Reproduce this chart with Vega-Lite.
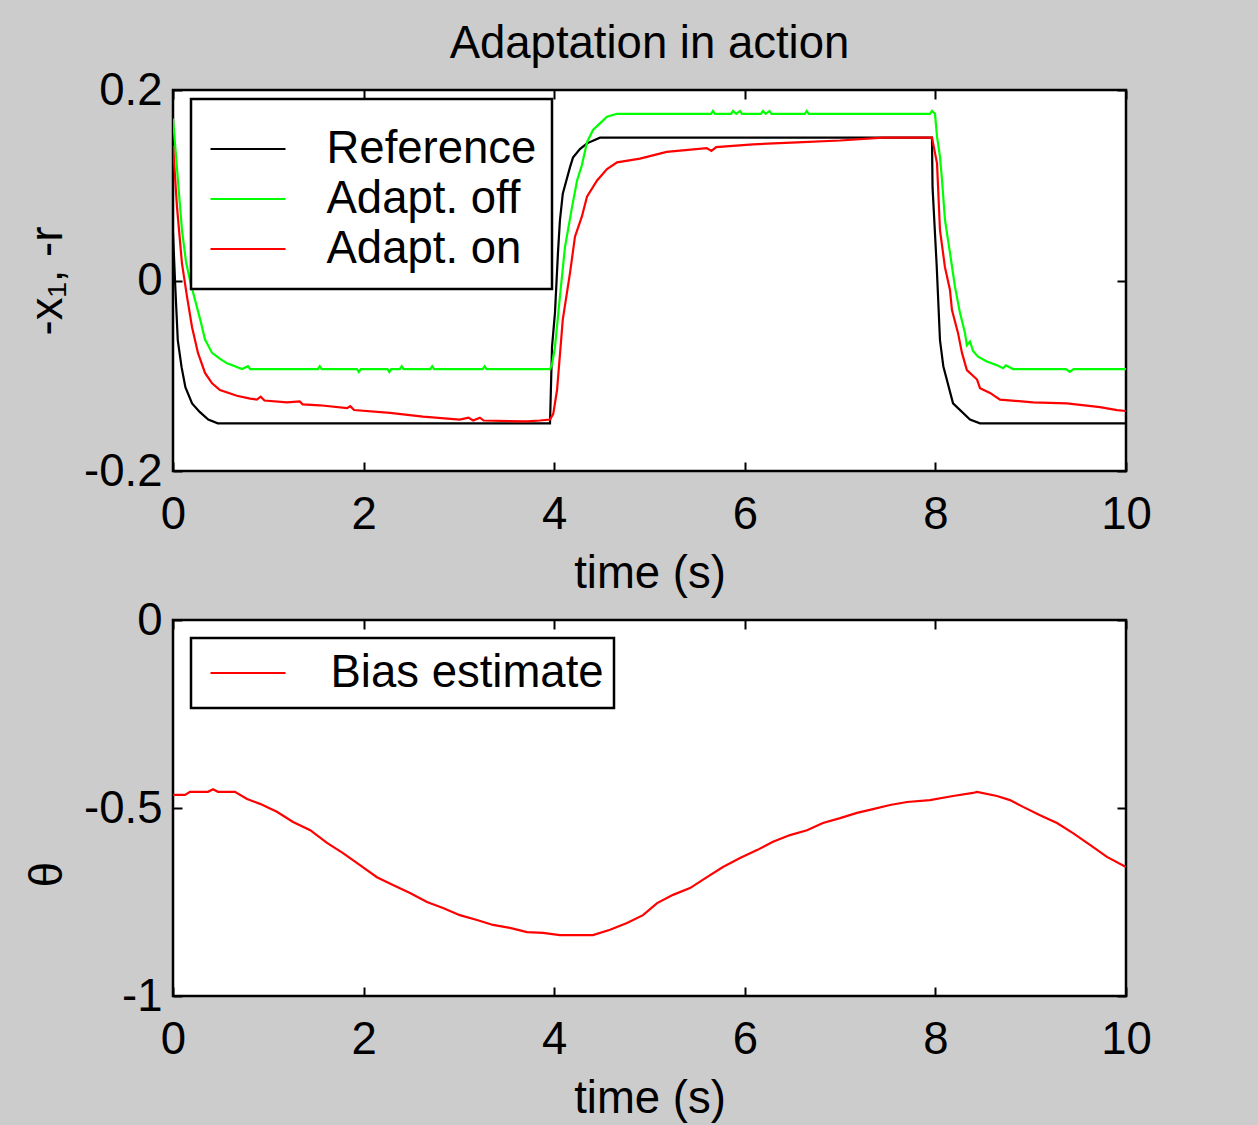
{
  "$schema": "https://vega.github.io/schema/vega-lite/v6.json",
  "background": "#cccccc",
  "padding": {"left": 24, "top": 20, "right": 132, "bottom": 20},
  "datasets": {
    "top": [
      {"t": 0, "v": 0.05, "series": "Reference"},
      {"t": 0.021, "v": 0.0, "series": "Reference"},
      {"t": 0.05, "v": -0.0625, "series": "Reference"},
      {"t": 0.09, "v": -0.091, "series": "Reference"},
      {"t": 0.13, "v": -0.112, "series": "Reference"},
      {"t": 0.2, "v": -0.129, "series": "Reference"},
      {"t": 0.28, "v": -0.138, "series": "Reference"},
      {"t": 0.37, "v": -0.146, "series": "Reference"},
      {"t": 0.47, "v": -0.15, "series": "Reference"},
      {"t": 3.956, "v": -0.15, "series": "Reference"},
      {"t": 3.977, "v": -0.07, "series": "Reference"},
      {"t": 4.008, "v": -0.034, "series": "Reference"},
      {"t": 4.04, "v": 0.03, "series": "Reference"},
      {"t": 4.06, "v": 0.063, "series": "Reference"},
      {"t": 4.09, "v": 0.091, "series": "Reference"},
      {"t": 4.166, "v": 0.119, "series": "Reference"},
      {"t": 4.197, "v": 0.129, "series": "Reference"},
      {"t": 4.27, "v": 0.138, "series": "Reference"},
      {"t": 4.344, "v": 0.144, "series": "Reference"},
      {"t": 4.48, "v": 0.15, "series": "Reference"},
      {"t": 7.964, "v": 0.15, "series": "Reference"},
      {"t": 7.97, "v": 0.098, "series": "Reference"},
      {"t": 8.014, "v": 0.0145, "series": "Reference"},
      {"t": 8.048, "v": -0.0625, "series": "Reference"},
      {"t": 8.083, "v": -0.09, "series": "Reference"},
      {"t": 8.185, "v": -0.129, "series": "Reference"},
      {"t": 8.363, "v": -0.146, "series": "Reference"},
      {"t": 8.468, "v": -0.15, "series": "Reference"},
      {"t": 10, "v": -0.15, "series": "Reference"},

      {"t": 0, "v": 0.17, "series": "Adapt. off"},
      {"t": 0.052, "v": 0.105, "series": "Adapt. off"},
      {"t": 0.094, "v": 0.053, "series": "Adapt. off"},
      {"t": 0.136, "v": 0.02, "series": "Adapt. off"},
      {"t": 0.178, "v": 0.0, "series": "Adapt. off"},
      {"t": 0.23, "v": -0.02, "series": "Adapt. off"},
      {"t": 0.283, "v": -0.04, "series": "Adapt. off"},
      {"t": 0.336, "v": -0.062, "series": "Adapt. off"},
      {"t": 0.41, "v": -0.076, "series": "Adapt. off"},
      {"t": 0.49, "v": -0.082, "series": "Adapt. off"},
      {"t": 0.567, "v": -0.087, "series": "Adapt. off"},
      {"t": 0.65, "v": -0.09, "series": "Adapt. off"},
      {"t": 0.724, "v": -0.093, "series": "Adapt. off"},
      {"t": 0.787, "v": -0.09, "series": "Adapt. off"},
      {"t": 0.81, "v": -0.093, "series": "Adapt. off"},
      {"t": 1.52, "v": -0.093, "series": "Adapt. off"},
      {"t": 1.54, "v": -0.09, "series": "Adapt. off"},
      {"t": 1.56, "v": -0.093, "series": "Adapt. off"},
      {"t": 1.93, "v": -0.093, "series": "Adapt. off"},
      {"t": 1.95, "v": -0.096, "series": "Adapt. off"},
      {"t": 1.97, "v": -0.093, "series": "Adapt. off"},
      {"t": 2.25, "v": -0.093, "series": "Adapt. off"},
      {"t": 2.27, "v": -0.096, "series": "Adapt. off"},
      {"t": 2.29, "v": -0.093, "series": "Adapt. off"},
      {"t": 2.38, "v": -0.093, "series": "Adapt. off"},
      {"t": 2.4, "v": -0.09, "series": "Adapt. off"},
      {"t": 2.42, "v": -0.093, "series": "Adapt. off"},
      {"t": 2.7, "v": -0.093, "series": "Adapt. off"},
      {"t": 2.72, "v": -0.09, "series": "Adapt. off"},
      {"t": 2.74, "v": -0.093, "series": "Adapt. off"},
      {"t": 3.25, "v": -0.093, "series": "Adapt. off"},
      {"t": 3.27, "v": -0.09, "series": "Adapt. off"},
      {"t": 3.29, "v": -0.093, "series": "Adapt. off"},
      {"t": 3.956, "v": -0.093, "series": "Adapt. off"},
      {"t": 3.977, "v": -0.088, "series": "Adapt. off"},
      {"t": 4.008, "v": -0.07, "series": "Adapt. off"},
      {"t": 4.06, "v": -0.017, "series": "Adapt. off"},
      {"t": 4.113, "v": 0.035, "series": "Adapt. off"},
      {"t": 4.187, "v": 0.077, "series": "Adapt. off"},
      {"t": 4.24, "v": 0.105, "series": "Adapt. off"},
      {"t": 4.29, "v": 0.121, "series": "Adapt. off"},
      {"t": 4.344, "v": 0.145, "series": "Adapt. off"},
      {"t": 4.407, "v": 0.158, "series": "Adapt. off"},
      {"t": 4.48, "v": 0.165, "series": "Adapt. off"},
      {"t": 4.554, "v": 0.172, "series": "Adapt. off"},
      {"t": 4.66, "v": 0.175, "series": "Adapt. off"},
      {"t": 5.646, "v": 0.175, "series": "Adapt. off"},
      {"t": 5.666, "v": 0.178, "series": "Adapt. off"},
      {"t": 5.686, "v": 0.175, "series": "Adapt. off"},
      {"t": 5.856, "v": 0.175, "series": "Adapt. off"},
      {"t": 5.876, "v": 0.178, "series": "Adapt. off"},
      {"t": 5.91, "v": 0.175, "series": "Adapt. off"},
      {"t": 5.95, "v": 0.178, "series": "Adapt. off"},
      {"t": 5.97, "v": 0.175, "series": "Adapt. off"},
      {"t": 6.17, "v": 0.175, "series": "Adapt. off"},
      {"t": 6.19, "v": 0.178, "series": "Adapt. off"},
      {"t": 6.22, "v": 0.175, "series": "Adapt. off"},
      {"t": 6.26, "v": 0.178, "series": "Adapt. off"},
      {"t": 6.28, "v": 0.175, "series": "Adapt. off"},
      {"t": 6.63, "v": 0.175, "series": "Adapt. off"},
      {"t": 6.65, "v": 0.178, "series": "Adapt. off"},
      {"t": 6.67, "v": 0.175, "series": "Adapt. off"},
      {"t": 7.943, "v": 0.175, "series": "Adapt. off"},
      {"t": 7.964, "v": 0.178, "series": "Adapt. off"},
      {"t": 7.996, "v": 0.175, "series": "Adapt. off"},
      {"t": 8.017, "v": 0.151, "series": "Adapt. off"},
      {"t": 8.048, "v": 0.13, "series": "Adapt. off"},
      {"t": 8.069, "v": 0.106, "series": "Adapt. off"},
      {"t": 8.1, "v": 0.064, "series": "Adapt. off"},
      {"t": 8.153, "v": 0.029, "series": "Adapt. off"},
      {"t": 8.206, "v": -0.007, "series": "Adapt. off"},
      {"t": 8.258, "v": -0.034, "series": "Adapt. off"},
      {"t": 8.31, "v": -0.055, "series": "Adapt. off"},
      {"t": 8.33, "v": -0.068, "series": "Adapt. off"},
      {"t": 8.363, "v": -0.064, "series": "Adapt. off"},
      {"t": 8.395, "v": -0.074, "series": "Adapt. off"},
      {"t": 8.447, "v": -0.08, "series": "Adapt. off"},
      {"t": 8.54, "v": -0.085, "series": "Adapt. off"},
      {"t": 8.646, "v": -0.089, "series": "Adapt. off"},
      {"t": 8.71, "v": -0.092, "series": "Adapt. off"},
      {"t": 8.74, "v": -0.089, "series": "Adapt. off"},
      {"t": 8.814, "v": -0.093, "series": "Adapt. off"},
      {"t": 9.37, "v": -0.093, "series": "Adapt. off"},
      {"t": 9.41, "v": -0.096, "series": "Adapt. off"},
      {"t": 9.45, "v": -0.093, "series": "Adapt. off"},
      {"t": 10, "v": -0.093, "series": "Adapt. off"},

      {"t": 0, "v": 0.142, "series": "Adapt. on"},
      {"t": 0.042, "v": 0.077, "series": "Adapt. on"},
      {"t": 0.094, "v": 0.018, "series": "Adapt. on"},
      {"t": 0.147, "v": -0.017, "series": "Adapt. on"},
      {"t": 0.2, "v": -0.049, "series": "Adapt. on"},
      {"t": 0.262, "v": -0.076, "series": "Adapt. on"},
      {"t": 0.336, "v": -0.097, "series": "Adapt. on"},
      {"t": 0.41, "v": -0.108, "series": "Adapt. on"},
      {"t": 0.493, "v": -0.115, "series": "Adapt. on"},
      {"t": 0.67, "v": -0.121, "series": "Adapt. on"},
      {"t": 0.81, "v": -0.124, "series": "Adapt. on"},
      {"t": 0.88, "v": -0.125, "series": "Adapt. on"},
      {"t": 0.92, "v": -0.122, "series": "Adapt. on"},
      {"t": 0.96, "v": -0.126, "series": "Adapt. on"},
      {"t": 1.196, "v": -0.128, "series": "Adapt. on"},
      {"t": 1.33, "v": -0.127, "series": "Adapt. on"},
      {"t": 1.36, "v": -0.13, "series": "Adapt. on"},
      {"t": 1.54, "v": -0.131, "series": "Adapt. on"},
      {"t": 1.826, "v": -0.134, "series": "Adapt. on"},
      {"t": 1.86, "v": -0.132, "series": "Adapt. on"},
      {"t": 1.9, "v": -0.136, "series": "Adapt. on"},
      {"t": 2.277, "v": -0.139, "series": "Adapt. on"},
      {"t": 2.623, "v": -0.143, "series": "Adapt. on"},
      {"t": 3.01, "v": -0.146, "series": "Adapt. on"},
      {"t": 3.1, "v": -0.144, "series": "Adapt. on"},
      {"t": 3.15, "v": -0.147, "series": "Adapt. on"},
      {"t": 3.22, "v": -0.144, "series": "Adapt. on"},
      {"t": 3.26, "v": -0.147, "series": "Adapt. on"},
      {"t": 3.71, "v": -0.148, "series": "Adapt. on"},
      {"t": 3.85, "v": -0.147, "series": "Adapt. on"},
      {"t": 3.956, "v": -0.146, "series": "Adapt. on"},
      {"t": 3.99, "v": -0.14, "series": "Adapt. on"},
      {"t": 4.03, "v": -0.115, "series": "Adapt. on"},
      {"t": 4.09, "v": -0.041, "series": "Adapt. on"},
      {"t": 4.166, "v": 0.008, "series": "Adapt. on"},
      {"t": 4.218, "v": 0.046, "series": "Adapt. on"},
      {"t": 4.29, "v": 0.067, "series": "Adapt. on"},
      {"t": 4.344, "v": 0.088, "series": "Adapt. on"},
      {"t": 4.45, "v": 0.105, "series": "Adapt. on"},
      {"t": 4.554, "v": 0.117, "series": "Adapt. on"},
      {"t": 4.66, "v": 0.124, "series": "Adapt. on"},
      {"t": 4.9, "v": 0.128, "series": "Adapt. on"},
      {"t": 5.18, "v": 0.135, "series": "Adapt. on"},
      {"t": 5.6, "v": 0.139, "series": "Adapt. on"},
      {"t": 5.65, "v": 0.136, "series": "Adapt. on"},
      {"t": 5.7, "v": 0.14, "series": "Adapt. on"},
      {"t": 6.086, "v": 0.143, "series": "Adapt. on"},
      {"t": 6.548, "v": 0.145, "series": "Adapt. on"},
      {"t": 7.0, "v": 0.147, "series": "Adapt. on"},
      {"t": 7.45, "v": 0.15, "series": "Adapt. on"},
      {"t": 7.964, "v": 0.15, "series": "Adapt. on"},
      {"t": 8.017, "v": 0.123, "series": "Adapt. on"},
      {"t": 8.048, "v": 0.053, "series": "Adapt. on"},
      {"t": 8.1, "v": 0.014, "series": "Adapt. on"},
      {"t": 8.153, "v": -0.01, "series": "Adapt. on"},
      {"t": 8.174, "v": -0.031, "series": "Adapt. on"},
      {"t": 8.237, "v": -0.055, "series": "Adapt. on"},
      {"t": 8.279, "v": -0.076, "series": "Adapt. on"},
      {"t": 8.33, "v": -0.094, "series": "Adapt. on"},
      {"t": 8.437, "v": -0.104, "series": "Adapt. on"},
      {"t": 8.468, "v": -0.113, "series": "Adapt. on"},
      {"t": 8.573, "v": -0.118, "series": "Adapt. on"},
      {"t": 8.678, "v": -0.125, "series": "Adapt. on"},
      {"t": 9.024, "v": -0.128, "series": "Adapt. on"},
      {"t": 9.38, "v": -0.129, "series": "Adapt. on"},
      {"t": 9.727, "v": -0.133, "series": "Adapt. on"},
      {"t": 9.906, "v": -0.136, "series": "Adapt. on"},
      {"t": 10, "v": -0.137, "series": "Adapt. on"}
    ],
    "bottom": [
      {"t": 0, "v": -0.465, "series": "Bias estimate"},
      {"t": 0.126, "v": -0.465, "series": "Bias estimate"},
      {"t": 0.178, "v": -0.457, "series": "Bias estimate"},
      {"t": 0.367, "v": -0.457, "series": "Bias estimate"},
      {"t": 0.42, "v": -0.45, "series": "Bias estimate"},
      {"t": 0.472, "v": -0.457, "series": "Bias estimate"},
      {"t": 0.65, "v": -0.457, "series": "Bias estimate"},
      {"t": 0.777, "v": -0.476, "series": "Bias estimate"},
      {"t": 0.913, "v": -0.489, "series": "Bias estimate"},
      {"t": 1.09, "v": -0.51, "series": "Bias estimate"},
      {"t": 1.26, "v": -0.537, "series": "Bias estimate"},
      {"t": 1.44, "v": -0.559, "series": "Bias estimate"},
      {"t": 1.616, "v": -0.593, "series": "Bias estimate"},
      {"t": 1.784, "v": -0.62, "series": "Bias estimate"},
      {"t": 1.962, "v": -0.652, "series": "Bias estimate"},
      {"t": 2.14, "v": -0.684, "series": "Bias estimate"},
      {"t": 2.308, "v": -0.705, "series": "Bias estimate"},
      {"t": 2.487, "v": -0.726, "series": "Bias estimate"},
      {"t": 2.665, "v": -0.75, "series": "Bias estimate"},
      {"t": 2.833, "v": -0.766, "series": "Bias estimate"},
      {"t": 3.01, "v": -0.785, "series": "Bias estimate"},
      {"t": 3.19, "v": -0.798, "series": "Bias estimate"},
      {"t": 3.358, "v": -0.811, "series": "Bias estimate"},
      {"t": 3.536, "v": -0.819, "series": "Bias estimate"},
      {"t": 3.715, "v": -0.83, "series": "Bias estimate"},
      {"t": 3.883, "v": -0.832, "series": "Bias estimate"},
      {"t": 4.06, "v": -0.838, "series": "Bias estimate"},
      {"t": 4.407, "v": -0.838, "series": "Bias estimate"},
      {"t": 4.586, "v": -0.824, "series": "Bias estimate"},
      {"t": 4.764, "v": -0.806, "series": "Bias estimate"},
      {"t": 4.932, "v": -0.785, "series": "Bias estimate"},
      {"t": 5.08, "v": -0.753, "series": "Bias estimate"},
      {"t": 5.247, "v": -0.731, "series": "Bias estimate"},
      {"t": 5.425, "v": -0.713, "series": "Bias estimate"},
      {"t": 5.603, "v": -0.684, "series": "Bias estimate"},
      {"t": 5.771, "v": -0.657, "series": "Bias estimate"},
      {"t": 5.95, "v": -0.633, "series": "Bias estimate"},
      {"t": 6.128, "v": -0.612, "series": "Bias estimate"},
      {"t": 6.296, "v": -0.59, "series": "Bias estimate"},
      {"t": 6.474, "v": -0.572, "series": "Bias estimate"},
      {"t": 6.653, "v": -0.559, "series": "Bias estimate"},
      {"t": 6.82, "v": -0.54, "series": "Bias estimate"},
      {"t": 7.0, "v": -0.527, "series": "Bias estimate"},
      {"t": 7.177, "v": -0.513, "series": "Bias estimate"},
      {"t": 7.345, "v": -0.503, "series": "Bias estimate"},
      {"t": 7.524, "v": -0.492, "series": "Bias estimate"},
      {"t": 7.702, "v": -0.484, "series": "Bias estimate"},
      {"t": 7.943, "v": -0.479, "series": "Bias estimate"},
      {"t": 8.185, "v": -0.468, "series": "Bias estimate"},
      {"t": 8.394, "v": -0.46, "series": "Bias estimate"},
      {"t": 8.437, "v": -0.457, "series": "Bias estimate"},
      {"t": 8.646, "v": -0.468, "series": "Bias estimate"},
      {"t": 8.783, "v": -0.479, "series": "Bias estimate"},
      {"t": 8.92, "v": -0.497, "series": "Bias estimate"},
      {"t": 9.098, "v": -0.519, "series": "Bias estimate"},
      {"t": 9.276, "v": -0.54, "series": "Bias estimate"},
      {"t": 9.444, "v": -0.567, "series": "Bias estimate"},
      {"t": 9.622, "v": -0.598, "series": "Bias estimate"},
      {"t": 9.8, "v": -0.63, "series": "Bias estimate"},
      {"t": 10, "v": -0.657, "series": "Bias estimate"}
    ]
  },
  "config": {
    "font": "Liberation Sans",
    "view": {"stroke": "black", "strokeWidth": 2.5, "fill": "white"},
    "axis": {
      "domain": false, "grid": false,
      "tickColor": "black", "tickSize": -9, "tickWidth": 2,
      "labelFontSize": 45.5, "labelColor": "black", "labelFont": "Liberation Sans",
      "titleFontSize": 45.5, "titleFontWeight": "normal", "titleColor": "black", "titleFont": "Liberation Sans",
      "format": ".2~f",
      "labelFlush": false,
      "labelExpr": "replace(datum.label, '\u2212', '-')"
    },
    "axisX": {"labelPadding": 30, "titlePadding": 14},
    "axisY": {"labelPadding": 20, "titlePadding": 12},
    "legend": {
      "orient": "none",
      "strokeColor": "black",
      "strokeWidth": 2.5,
      "fillColor": "white",
      "symbolType": "stroke",
      "symbolSize": 5625,
      "symbolStrokeWidth": 2,
      "labelFontSize": 45.5,
      "labelFont": "Liberation Sans",
      "labelColor": "black",
      "labelLimit": 0,
      "rowPadding": 0
    },
    "title": {"fontSize": 45.5, "fontWeight": "normal", "font": "Liberation Sans", "color": "black"},
    "concat": {"spacing": -3}
  },
  "vconcat": [
    {
      "width": 953, "height": 381,
      "title": {"text": "Adaptation in action", "offset": 1},
      "data": {"name": "top"},
      "layer": [
        {
          "mark": {"type": "line", "strokeWidth": 2.2, "clip": true},
          "encoding": {
            "x": {"field": "t", "type": "quantitative", "scale": {"domain": [0, 10], "nice": false},
                  "axis": {"values": [0, 2, 4, 6, 8, 10], "title": "time (s)"}},
            "y": {"field": "v", "type": "quantitative", "scale": {"domain": [-0.2, 0.2], "nice": false},
                  "axis": {"values": [-0.2, 0, 0.2], "title": "-x₁, -r"}},
            "color": {"field": "series", "type": "nominal",
                      "scale": {"domain": ["Reference", "Adapt. off", "Adapt. on"], "range": ["#000000", "#00ff00", "#ff0000"]},
                      "legend": {"legendX": 18, "legendY": 9, "clipHeight": 50, "padding": 15,
                                 "symbolOffset": 3.5, "labelOffset": 40,
                                 "title": " ", "titleOrient": "top", "titleFontSize": 8, "titlePadding": 2}}
          }
        },
        {
          "mark": {"type": "line", "opacity": 0},
          "encoding": {
            "x": {"field": "t", "type": "quantitative", "axis": {"orient": "top", "values": [0, 2, 4, 6, 8, 10], "labels": false, "title": null}},
            "y": {"field": "v", "type": "quantitative", "axis": {"orient": "right", "values": [-0.2, 0, 0.2], "labels": false, "title": null}}
          }
        }
      ],
      "resolve": {"axis": {"x": "independent", "y": "independent"}}
    },
    {
      "width": 953, "height": 376,
      "data": {"name": "bottom"},
      "layer": [
        {
          "mark": {"type": "line", "strokeWidth": 2.2, "clip": true},
          "encoding": {
            "x": {"field": "t", "type": "quantitative", "scale": {"domain": [0, 10], "nice": false},
                  "axis": {"values": [0, 2, 4, 6, 8, 10], "title": "time (s)"}},
            "y": {"field": "v", "type": "quantitative", "scale": {"domain": [-1, 0], "nice": false},
                  "axis": {"values": [-1, -0.5, 0], "title": "θ", "titleY": 254}},
            "color": {"field": "series", "type": "nominal",
                      "scale": {"domain": ["Bias estimate"], "range": ["#ff0000"]},
                      "legend": {"legendX": 18, "legendY": 18, "clipHeight": 50, "padding": 10,
                                 "symbolOffset": 8.5, "labelOffset": 44, "title": null}}
          }
        },
        {
          "mark": {"type": "line", "opacity": 0},
          "encoding": {
            "x": {"field": "t", "type": "quantitative", "axis": {"orient": "top", "values": [0, 2, 4, 6, 8, 10], "labels": false, "title": null}},
            "y": {"field": "v", "type": "quantitative", "axis": {"orient": "right", "values": [-1, -0.5, 0], "labels": false, "title": null}}
          }
        }
      ],
      "resolve": {"axis": {"x": "independent", "y": "independent"}}
    }
  ],
  "resolve": {"scale": {"color": "independent"}, "legend": {"color": "independent"}}
}
